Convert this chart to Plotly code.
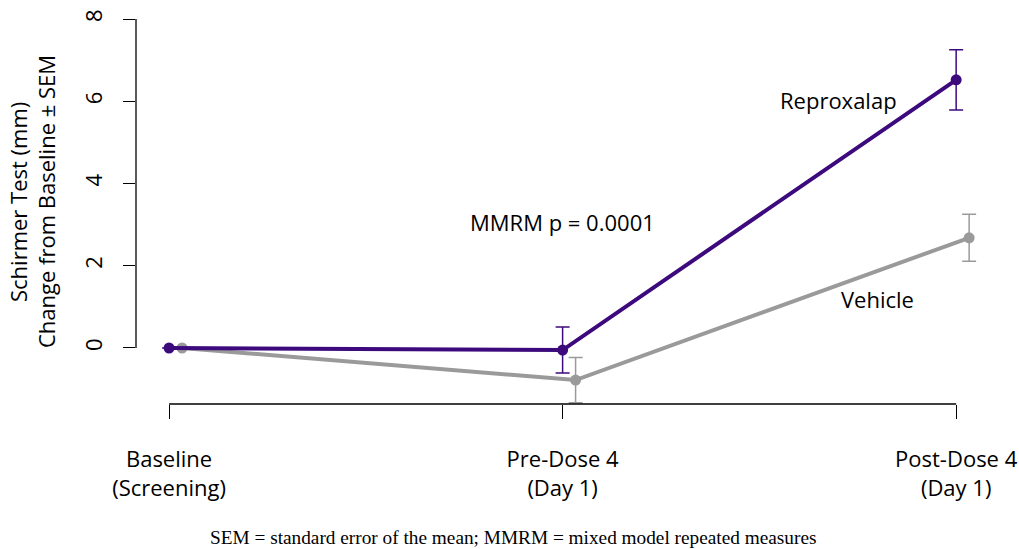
import plotly.graph_objects as go

# Visits and tick labels
visits = [1, 2, 3]
visit_labels = ["Baseline<br>(Screening)", "Pre-Dose 4<br>(Day 1)", "Post-Dose 4<br>(Day 1)"]

# Mean change from baseline (mm) and SEM
reproxalap_mean = [0.0, -0.05, 6.52]
reproxalap_sem = [None, 0.56, 0.73]
vehicle_mean = [0.0, -0.78, 2.68]
vehicle_sem = [None, 0.55, 0.57]

# small horizontal dodge so the two series don't overlap
dodge = 0.033
vehicle_x = [v + dodge for v in visits]

purple = "#3d0a7e"
grey = "#9a9a9a"
font = "Open Sans"
fs = 22

fig = go.Figure()

fig.add_trace(go.Scatter(
    x=vehicle_x, y=vehicle_mean, mode="lines+markers",
    line=dict(color=grey, width=4),
    marker=dict(color=grey, size=11),
    error_y=dict(type="data", array=vehicle_sem, color=grey, thickness=1.5, width=7),
    showlegend=False,
))
fig.add_trace(go.Scatter(
    x=visits, y=reproxalap_mean, mode="lines+markers",
    line=dict(color=purple, width=4),
    marker=dict(color=purple, size=11),
    error_y=dict(type="data", array=reproxalap_sem, color=purple, thickness=1.5, width=7),
    showlegend=False,
))

# R-style axis lines spanning only the tick range
fig.add_shape(type="line", xref="x", yref="paper", x0=1, x1=3, y0=0, y1=0,
              line=dict(color="black", width=1.3))
fig.add_shape(type="line", xref="paper", yref="y", x0=0, x1=0, y0=0, y1=8,
              line=dict(color="black", width=1.3))

fig.update_xaxes(
    range=[0.916, 3.086], tickmode="array", tickvals=visits, ticktext=visit_labels,
    ticks="outside", ticklen=14, tickwidth=1.3, tickcolor="black",
    showline=False, showgrid=False, zeroline=False, automargin=False,
    tickfont=dict(family=font, size=fs, color="black"),
    ticklabelstandoff=22,
)
fig.update_yaxes(
    range=[-1.362, 8.219], tickmode="array", tickvals=[0, 2, 4, 6, 8],
    ticks="outside", ticklen=12, tickwidth=1.3, tickcolor="black",
    showline=False, showgrid=False, zeroline=False, tickangle=-90, automargin=False,
    tickfont=dict(family=font, size=fs, color="black"),
    ticklabelstandoff=12,
)

annos = [
    dict(x=2.70, y=6.03, xref="x", yref="y", text="Reproxalap"),
    dict(x=2.80, y=1.19, xref="x", yref="y", text="Vehicle"),
    dict(x=2.0, y=3.06, xref="x", yref="y", text="MMRM p = 0.0001"),
]
for a in annos:
    fig.add_annotation(showarrow=False, font=dict(family=font, size=fs, color="black"), **a)

# two-line y title
fig.add_annotation(text="Schirmer Test (mm)", x=18, y=202, xref="paper", yref="paper",
                   showarrow=False, textangle=-90,
                   font=dict(family=font, size=fs, color="black"))
fig.add_annotation(text="Change from Baseline ± SEM", x=46, y=202, xref="paper", yref="paper",
                   showarrow=False, textangle=-90,
                   font=dict(family=font, size=fs, color="black"))
# footnote
fig.add_annotation(text="SEM = standard error of the mean; MMRM = mixed model repeated measures",
                   x=513, y=537, xref="paper", yref="paper", showarrow=False,
                   font=dict(family="Liberation Serif", size=19.3, color="black"))

# convert pixel-placed annotations to paper coordinates
W, H = 1019, 549
L, R, T, B = 136, 29, 10, 145
pw, ph = W - L - R, H - T - B
for a in fig.layout.annotations:
    if a.xref == "paper":
        a.x = (a.x - L) / pw
        a.y = (H - B - a.y) / ph
        a.xanchor = "center"
        a.yanchor = "middle"

fig.update_layout(
    width=W, height=H,
    margin=dict(l=L, r=R, t=T, b=B),
    plot_bgcolor="white", paper_bgcolor="white",
)

fig.write_html("out.html")
